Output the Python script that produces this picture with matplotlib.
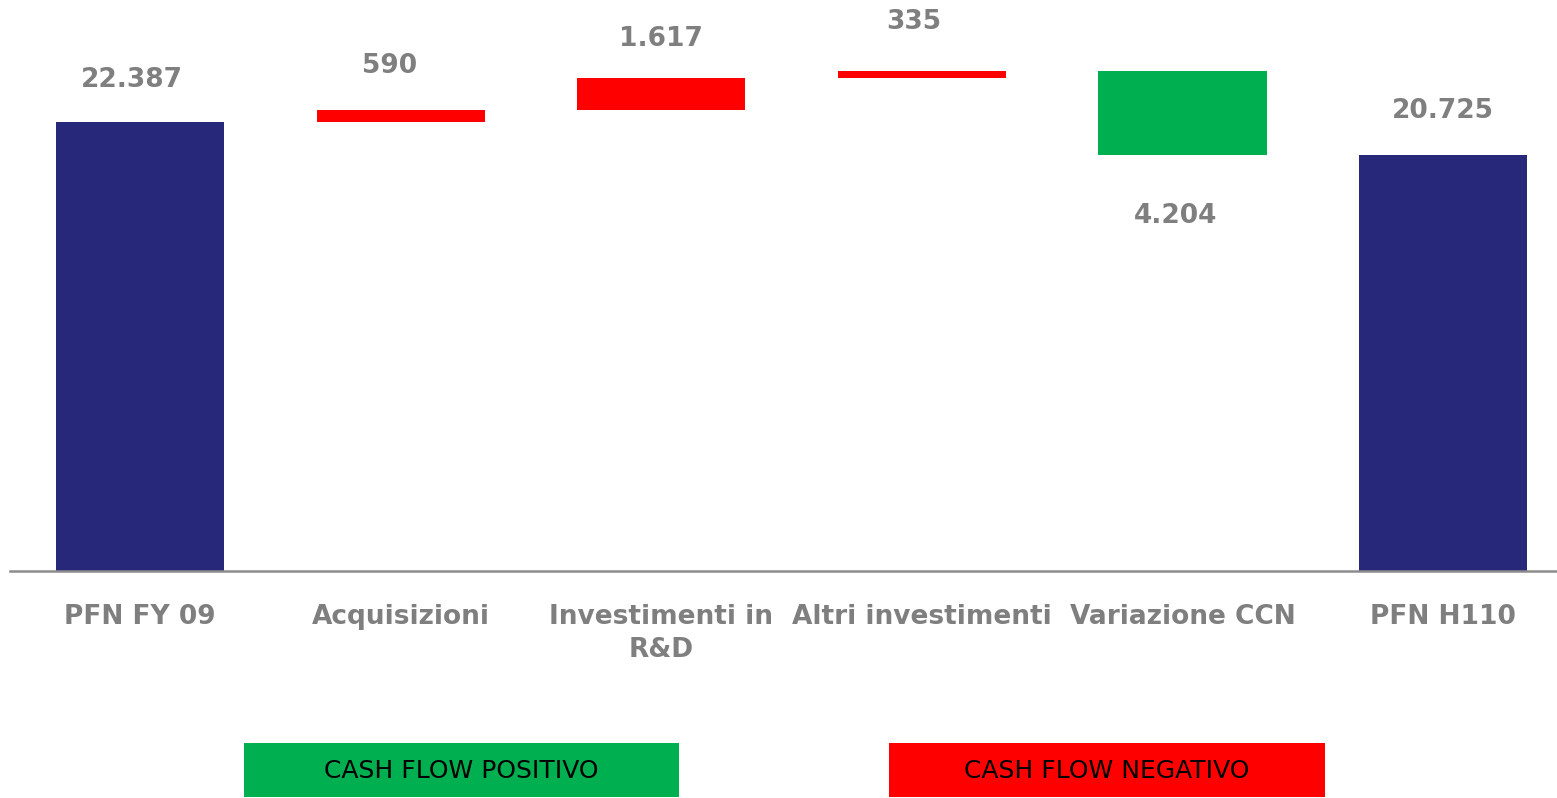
import matplotlib
matplotlib.use("Agg")
import matplotlib.pyplot as plt
from matplotlib.patches import Rectangle

categories = ["PFN FY 09", "Acquisizioni", "Investimenti in\nR&D", "Altri investimenti", "Variazione CCN", "PFN H110"]
values = [22387, 590, 1617, 335, -4204, 20725]
kinds = ["total", "delta", "delta", "delta", "delta", "total"]
value_labels = ["22.387", "590", "1.617", "335", "4.204", "20.725"]
legend_labels = ["CASH FLOW POSITIVO", "CASH FLOW NEGATIVO"]

# label offsets in points (style)
label_offsets = [(-6, 30), (-8, 32), (0, 28), (-6, 35), (-5, -44), (0, 32)]

NAVY = "#27287A"
RED = "#FF0000"
GREEN = "#00B050"
GRAY = "#7F7F7F"

W, H = 1557, 798
fig = plt.figure(figsize=(W / 100, H / 100), dpi=100)
ax = fig.add_axes([10 / W, (H - 571) / H, (W - 10) / W, 571 / H])

scale = 449 / 22387  # px per unit
ax.set_ylim(0, 571 / scale)
ax.set_xlim(-0.499, 5.437)

running = 0
for i, (v, k, lab, off) in enumerate(zip(values, kinds, value_labels, label_offsets)):
    if k == "total":
        ax.bar(i, v, bottom=0, width=0.645, color=NAVY)
        running = v
        anchor = v
    else:
        color = RED if v > 0 else GREEN
        bottom = running if v > 0 else running + v
        ax.bar(i, abs(v), bottom=bottom, width=0.645, color=color)
        running += v
        anchor = running
    ax.annotate(lab, (i, anchor), xytext=off, textcoords="offset points",
                ha="center", va="center", fontsize=19, fontweight="bold", color=GRAY)

for s in ["top", "right", "left"]:
    ax.spines[s].set_visible(False)
ax.spines["bottom"].set_color("#8C8C8C")
ax.spines["bottom"].set_linewidth(1.8)
ax.set_yticks([])
ax.set_xticks(range(len(categories)))
ax.set_xticklabels(categories, fontsize=19, fontweight="bold", color=GRAY, linespacing=1.33)
ax.tick_params(axis="x", length=0, pad=24)

# legend boxes
boxes = [(244, 679, GREEN), (889, 1325, RED)]
for (x0, x1, c), lab in zip(boxes, legend_labels):
    fig.patches.append(Rectangle((x0 / W, (H - 797) / H), (x1 - x0) / W, 54 / H,
                                 transform=fig.transFigure, facecolor=c, edgecolor="none"))
    fig.text((x0 + x1) / 2 / W, (H - 771) / H, lab, ha="center", va="center",
             fontsize=18, color="black",
             family=["DejaVu Sans Condensed", "DejaVu Sans"])

fig.savefig("out.png", dpi=100)
